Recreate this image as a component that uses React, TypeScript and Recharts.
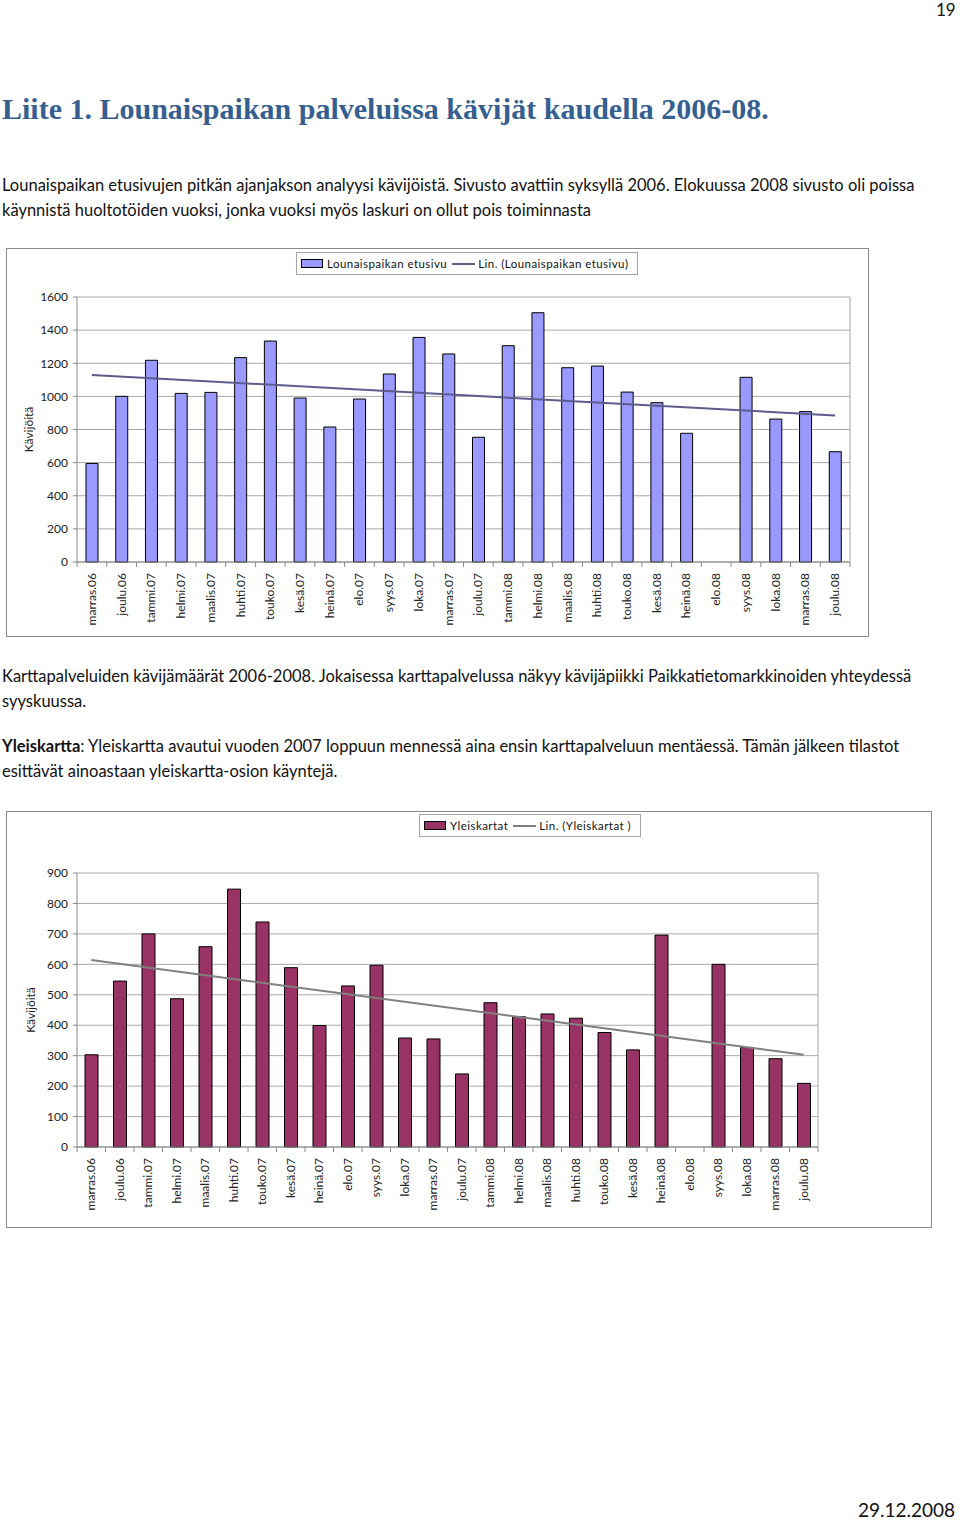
import React from "react";
import {
  ComposedChart,
  Bar,
  Line,
  XAxis,
  YAxis,
  CartesianGrid,
  Legend,
} from "recharts";

// kuukaudet (sama kummassakin kaaviossa)
const months = [
  "marras.06", "joulu.06", "tammi.07", "helmi.07", "maalis.07", "huhti.07",
  "touko.07", "kesä.07", "heinä.07", "elo.07", "syys.07", "loka.07",
  "marras.07", "joulu.07", "tammi.08", "helmi.08", "maalis.08", "huhti.08",
  "touko.08", "kesä.08", "heinä.08", "elo.08", "syys.08", "loka.08",
  "marras.08", "joulu.08",
];

// Lounaispaikan etusivu, kävijöitä / kk (elo.08 puuttuu)
const etusivu = [
  595, 1000, 1218, 1018, 1024, 1234, 1334, 990, 815, 984, 1135, 1356,
  1256, 753, 1306, 1505, 1173, 1183, 1026, 962, 777, null, 1115, 863,
  908, 666,
];
// lineaarisen trendin päätepisteet (luettu kuvasta)
const etusivuTrend = [1129, 885];
const etusivuTicks = [0, 200, 400, 600, 800, 1000, 1200, 1400, 1600];

// Yleiskartat, kävijöitä / kk
const yleiskartat = [
  303, 545, 700, 487, 658, 847, 739, 589, 399, 529, 597, 358,
  355, 240, 474, 428, 437, 423, 376, 319, 696, null, 600, 327,
  290, 209,
];
const yleiskartatTrend = [614, 303];
const yleiskartatTicks = [0, 100, 200, 300, 400, 500, 600, 700, 800, 900];

const chartFont = "Lato, 'Open Sans', sans-serif";
const textFont = "Lato, 'Open Sans', sans-serif";

const buildData = (values: (number | null)[], trend: number[]) =>
  months.map((m, i) => ({
    month: m,
    value: values[i],
    trend: i === 0 ? trend[0] : i === months.length - 1 ? trend[1] : null,
  }));

const MonthTick = (props: any) => {
  const { x, y, payload, band, last } = props;
  return (
    <g transform={`translate(${x},${y})`}>
      <line x1={-band / 2} x2={-band / 2} y1={0} y2={5} stroke="#888" />
      {payload.index === last && (
        <line x1={band / 2} x2={band / 2} y1={0} y2={5} stroke="#888" />
      )}
      <text
        transform="rotate(-90)"
        x={-11}
        y={4}
        textAnchor="end"
        fontSize={12}
        fontFamily={chartFont}
        fill="#222"
      >
        {payload.value}
      </text>
    </g>
  );
};

const LegendBox = (props: any) => {
  // palkki ensin, trendiviiva perään
  const items = [...(props.payload || [])].sort(
    (a: any, b: any) => (a.type === "line" ? 1 : 0) - (b.type === "line" ? 1 : 0)
  );
  return (
    <div
      style={{
        display: "inline-flex",
        alignItems: "center",
        border: "1px solid #a6a6a6",
        height: 21,
        padding: "0 4px",
        fontFamily: chartFont,
        fontSize: 11.5,
        letterSpacing: 0.45,
        color: "#111",
        background: "#fff",
        whiteSpace: "nowrap",
      }}
    >
      {items.map((p: any) => (
        <span
          key={p.value}
          style={{ display: "inline-flex", alignItems: "center", marginRight: 5 }}
        >
          {p.type === "line" ? (
            <span
              style={{
                display: "inline-block",
                width: 23,
                height: 2,
                background: p.color,
                marginRight: 3,
              }}
            />
          ) : (
            <span
              style={{
                display: "inline-block",
                width: 20,
                height: 7,
                background: p.color,
                border: "1px solid #000",
                marginRight: 4,
              }}
            />
          )}
          {p.value}
        </span>
      ))}
    </div>
  );
};

interface MonthlyChartProps {
  values: (number | null)[];
  trend: number[];
  ticks: number[];
  barName: string;
  trendName: string;
  barColor: string;
  trendColor: string;
  width: number;
  height: number;
  top: number;
  right: number;
  xHeight: number;
  barSize: number;
  legendLeft: number;
  legendTop: number;
  yLabelX: number;
}

const MonthlyChart = (p: MonthlyChartProps) => {
  const data = buildData(p.values, p.trend);
  const yWidth = 71;
  const band = (p.width - p.right - yWidth) / months.length;
  return (
    <ComposedChart
      width={p.width}
      height={p.height}
      data={data}
      margin={{ top: p.top, right: p.right, bottom: 0, left: 0 }}
      barSize={p.barSize}
    >
      <CartesianGrid
        stroke="#a8a8a8"
        verticalCoordinatesGenerator={({ offset }: any) => [
          offset.left + offset.width,
        ]}
      />
      <XAxis
        dataKey="month"
        interval={0}
        height={p.xHeight}
        tickSize={0}
        tickMargin={0}
        tickLine={false}
        axisLine={{ stroke: "#888" }}
        tick={(tp: any) => (
          <MonthTick {...tp} band={band} last={months.length - 1} />
        )}
      />
      <YAxis
        width={yWidth}
        domain={[0, p.ticks[p.ticks.length - 1]]}
        ticks={p.ticks}
        interval={0}
        tickSize={4}
        tickMargin={5}
        axisLine={{ stroke: "#888" }}
        tickLine={{ stroke: "#888" }}
        tick={{ fontSize: 12, fontFamily: chartFont, fill: "#222" }}
        label={{
          content: ({ viewBox }: any) => (
            <text
              x={p.yLabelX}
              y={viewBox.y + viewBox.height / 2}
              transform={`rotate(-90 ${p.yLabelX} ${viewBox.y + viewBox.height / 2})`}
              textAnchor="middle"
              dominantBaseline="central"
              fontSize={12}
              fontFamily={chartFont}
              fill="#222"
            >
              Kävijöitä
            </text>
          ),
        }}
      />
      <Legend
        layout="horizontal"
        verticalAlign="middle"
        align="center"
        content={<LegendBox />}
        wrapperStyle={{
          left: p.legendLeft,
          top: p.legendTop,
          width: "auto",
          height: "auto",
        }}
      />
      <Bar
        dataKey="value"
        name={p.barName}
        fill={p.barColor}
        stroke="#000"
        strokeWidth={1}
        isAnimationActive={false}
      />
      <Line
        dataKey="trend"
        name={p.trendName}
        type="linear"
        stroke={p.trendColor}
        strokeWidth={2}
        dot={false}
        activeDot={false}
        connectNulls
        isAnimationActive={false}
      />
    </ComposedChart>
  );
};

const Txt = (props: {
  x: number;
  y: number;
  size: number;
  children: React.ReactNode;
  style?: React.CSSProperties;
}) => (
  <div
    style={{
      position: "absolute",
      left: props.x,
      top: props.y,
      fontSize: props.size,
      lineHeight: `${Math.round(props.size * 1.3)}px`,
      whiteSpace: "nowrap",
      fontFamily: textFont,
      color: "#111",
      ...props.style,
    }}
  >
    {props.children}
  </div>
);

export default function App() {
  return (
    <div
      style={{
        position: "absolute",
        left: 0,
        top: 0,
        width: 960,
        height: 1520,
        background: "#fff",
        overflow: "hidden",
      }}
    >
      <Txt x={936} y={0} size={17} style={{ lineHeight: "20px" }}>
        19
      </Txt>

      <Txt
        x={2}
        y={89}
        size={30}
        style={{
          fontFamily: "'Liberation Serif', serif",
          fontWeight: "bold",
          color: "#365f91",
        }}
      >
        Liite 1. Lounaispaikan palveluissa kävijät kaudella 2006-08.
      </Txt>

      <Txt x={2} y={175} size={16.5}>
        Lounaispaikan etusivujen pitkän ajanjakson analyysi kävijöistä. Sivusto
        avattiin syksyllä 2006. Elokuussa 2008 sivusto oli poissa
      </Txt>
      <Txt x={2} y={200} size={16.5}>
        käynnistä huoltotöiden vuoksi, jonka vuoksi myös laskuri on ollut pois
        toiminnasta
      </Txt>

      <div
        style={{
          position: "absolute",
          left: 6,
          top: 248,
          width: 863,
          height: 389,
          boxSizing: "border-box",
          border: "1px solid #8a8a8a",
        }}
      />
      <div style={{ position: "absolute", left: 6, top: 248 }}>
        <MonthlyChart
          values={etusivu}
          trend={etusivuTrend}
          ticks={etusivuTicks}
          barName="Lounaispaikan etusivu"
          trendName="Lin. (Lounaispaikan etusivu)"
          barColor="#9999ff"
          trendColor="#5c5c8e"
          width={863}
          height={389}
          top={49}
          right={19}
          xHeight={75}
          barSize={12}
          legendLeft={290}
          legendTop={4}
          yLabelX={22}
        />
      </div>

      <Txt x={2} y={666} size={16.5}>
        Karttapalveluiden kävijämäärät 2006-2008. Jokaisessa karttapalvelussa
        näkyy kävijäpiikki Paikkatietomarkkinoiden yhteydessä
      </Txt>
      <Txt x={2} y={691} size={16.5}>
        syyskuussa.
      </Txt>
      <Txt x={2} y={736} size={16.5}>
        <b>Yleiskartta</b>: Yleiskartta avautui vuoden 2007 loppuun mennessä
        aina ensin karttapalveluun mentäessä. Tämän jälkeen tilastot
      </Txt>
      <Txt x={2} y={761} size={16.5}>
        esittävät ainoastaan yleiskartta-osion käyntejä.
      </Txt>

      <div
        style={{
          position: "absolute",
          left: 6,
          top: 811,
          width: 926,
          height: 417,
          boxSizing: "border-box",
          border: "1px solid #8a8a8a",
        }}
      />
      <div style={{ position: "absolute", left: 6, top: 811 }}>
        <MonthlyChart
          values={yleiskartat}
          trend={yleiskartatTrend}
          ticks={yleiskartatTicks}
          barName="Yleiskartat"
          trendName="Lin. (Yleiskartat )"
          barColor="#993366"
          trendColor="#808080"
          width={926}
          height={417}
          top={62}
          right={114}
          xHeight={81}
          barSize={13}
          legendLeft={413}
          legendTop={3}
          yLabelX={24}
        />
      </div>

      <Txt x={858} y={1497} size={19}>29.12.2008</Txt>
    </div>
  );
}
